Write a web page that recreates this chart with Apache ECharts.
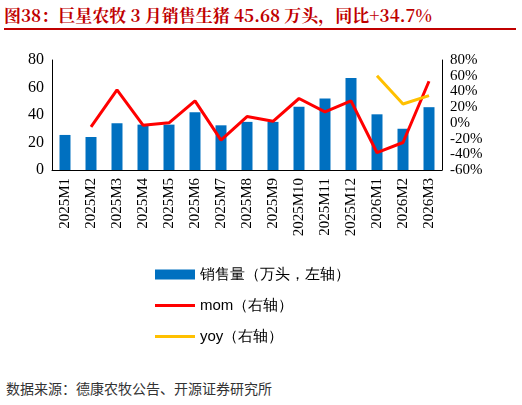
<!DOCTYPE html>
<html><head><meta charset="utf-8">
<script src="https://cdn.jsdelivr.net/npm/echarts@6/dist/echarts.min.js"></script>
<style>
body{margin:0;background:#fff;font-family:"Noto Sans CJK SC",sans-serif}
#title{position:absolute;left:4px;top:2px;width:512px;height:26px;border-bottom:2px solid #c00000;color:#c00000;font-weight:bold;font-size:17px;line-height:26px;font-family:"Noto Serif CJK SC","Noto Sans CJK SC",serif}
#src{position:absolute;left:6px;top:378px;font-size:14px;color:#333}
#c{position:absolute;left:0;top:30px;width:522px;height:345px}
</style></head><body>
<div id="title">图38：巨星农牧 3 月销售生猪 45.68 万头，同比+34.7%</div>
<div id="c"></div>
<div id="src">数据来源：德康农牧公告、开源证券研究所</div>
<script>
var months = ['2025M1','2025M2','2025M3','2025M4','2025M5','2025M6','2025M7','2025M8','2025M9','2025M10','2025M11','2025M12','2026M1','2026M2','2026M3'];
var sales = [25.5,24,34,33,33,42,32.5,35,35,46,52,67,40.5,30,45.68];
var mom = [null,-5,42,-3,0,28,-22,8,2,31,14,28,-38,-25,53];
var yoy = [null,null,null,null,null,null,null,null,null,null,null,null,60,24,34.7];

var chart = echarts.init(document.getElementById('c'));
var fs = {fontFamily:'Times New Roman, Liberation Serif, serif', fontSize:16, color:'#000'};
var lineIcon = 'path://M0,0L40,0L40,3L0,3Z';
chart.setOption({
  grid:{left:52,right:80,top:30,height:110},
  legend:{orient:'vertical',left:150,top:232,itemGap:16,itemWidth:40,itemHeight:10,
    textStyle:{fontSize:15,color:'#000'},
    data:[{name:'销售量（万头，左轴）',icon:'rect'},{name:'mom（右轴）',icon:lineIcon,itemHeight:3},{name:'yoy（右轴）',icon:lineIcon,itemHeight:3}]},
  xAxis:{type:'category',data:months,
    axisLine:{lineStyle:{color:'#000'}},axisTick:{show:false},
    axisLabel:{rotate:90,interval:0,fontFamily:fs.fontFamily,fontSize:15,color:'#000'}},
  yAxis:[
    {type:'value',min:0,max:80,interval:20,splitLine:{show:false},
      axisLine:{show:true,lineStyle:{color:'#000'}},axisLabel:fs},
    {type:'value',min:-60,max:80,interval:20,splitLine:{show:false},
      axisLine:{show:true,lineStyle:{color:'#000'}},
      axisLabel:Object.assign({formatter:'{value}%',showMinLabel:true,showMaxLabel:true,hideOverlap:false},fs,{fontSize:15})}
  ],
  series:[
    {name:'销售量（万头，左轴）',type:'bar',data:sales,barWidth:11,itemStyle:{color:'#0070c0'}},
    {name:'mom（右轴）',type:'line',yAxisIndex:1,data:mom,symbol:'none',lineStyle:{color:'#ff0000',width:3},itemStyle:{color:'#ff0000'}},
    {name:'yoy（右轴）',type:'line',yAxisIndex:1,data:yoy,symbol:'none',lineStyle:{color:'#ffc000',width:3},itemStyle:{color:'#ffc000'}}
  ]
});
</script>
</body></html>
